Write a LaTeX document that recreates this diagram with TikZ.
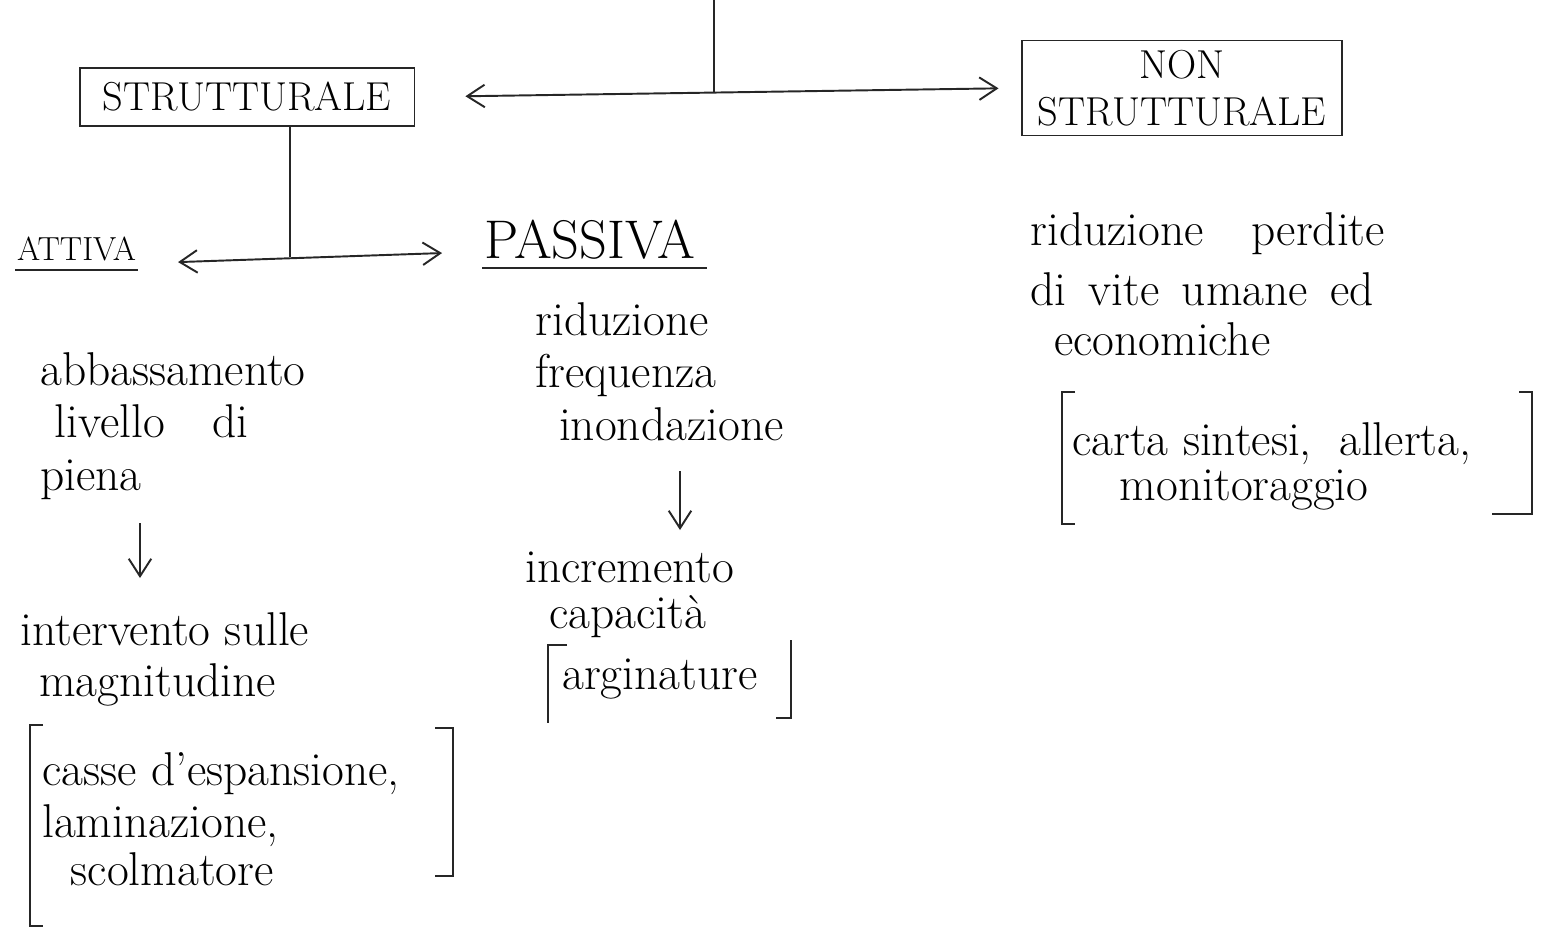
\documentclass[tikz,border=0pt]{standalone}
\usepackage{tikz}
\usetikzlibrary{arrows.meta,positioning}
\tikzset{
  >={Straight Barb[length=3.5mm,width=4.5mm]},
  hline/.style={black!85, line width=1.1pt},
  harr/.style={<->, black!85, line width=1.1pt},
  hdown/.style={->, black!85, line width=1.1pt},
  hbox/.style={draw=black!85, line width=1.1pt, font=\fontsize{23}{27}\selectfont,
               align=center, inner sep=4pt},
  hhead/.style={inner sep=1pt},
  htxt/.style={font=\fontsize{27}{30}\selectfont, align=left, anchor=north west, inner sep=0pt},
  hbrk/.style={black!85, line width=1.1pt},
}

\begin{document}
\begin{tikzpicture}[x=0.02cm, y=-0.02cm]
  \useasboundingbox (0,0) rectangle (1562,934);

  % categorie principali
  \node[hbox, minimum width=6.7cm, minimum height=1.15cm] (strut) at (247,97) {STRUTTURALE};
  \node[hbox, minimum width=6.4cm, minimum height=1.9cm] (nonstrut) at (1182,88) {NON\\STRUTTURALE};

  \coordinate (top) at (714,0);
  \coordinate (split) at (714,92);
  \draw[hline] (top) -- (split);
  \draw[harr, shorten <=1cm, shorten >=0.45cm] (strut.east) -- (nonstrut.west);

  % attiva / passiva
  \node[hhead, font=\fontsize{19}{23}\selectfont, anchor=base west] (attiva) at (15,260) {ATTIVA};
  \node[hhead, font=\fontsize{31}{36}\selectfont, anchor=base west] (passiva) at (482,258) {PASSIVA};
  \draw[hline] ([yshift=-4pt]attiva.south west) -- ([yshift=-4pt]attiva.south east);
  \draw[hline] ([yshift=-4pt]passiva.south west) -- ([xshift=0.2cm,yshift=-4pt]passiva.south east);

  \coordinate (split2) at (290,257);
  \draw[hline] (strut.south -| split2) -- (split2);
  \draw[harr, shorten <=0.8cm, shorten >=0.8cm]
       ([yshift=-0.3cm]attiva.east) -- ([yshift=-0.25cm]passiva.west);

  % ramo attiva
  \node[htxt] (abbass) at (40,352) {abbassamento\\\hspace{0.3em}livello\quad di\\piena};
  \node[htxt] (interv) at (20,612) {intervento sulle\\[-1pt]\hspace{0.4em}magnitudine};
  \coordinate (arrA) at (140,0);
  \draw[hdown, shorten <=0.46cm, shorten >=0.68cm] (abbass.south -| arrA) -- (interv.north -| arrA);

  \node[htxt] (casse) at (42,752) {casse d'espansione,\\laminazione,\\[-3pt]\hspace{0.6em}scolmatore};
  \draw[hbrk] ([xshift=0.02cm,yshift=0.54cm]casse.north west) -- ([xshift=-0.24cm,yshift=0.54cm]casse.north west)
              -- ([xshift=-0.24cm,yshift=-0.8cm]casse.south west) -- ([xshift=0.02cm,yshift=-0.8cm]casse.south west);
  \draw[hbrk] ([xshift=0.7cm,yshift=0.48cm]casse.north east) -- ([xshift=1.06cm,yshift=0.48cm]casse.north east)
              -- ([xshift=1.06cm,yshift=0.2cm]casse.south east) -- ([xshift=0.7cm,yshift=0.2cm]casse.south east);

  % ramo passiva
  \node[htxt] (ridfreq) at (535,302) {riduzione\\frequenza\\\hspace{0.5em}inondazione};
  \node[htxt] (increm) at (525,552) {incremento\\[-4pt]\hspace{0.5em}capacità};
  \coordinate (arrP) at (680,0);
  \draw[hdown, shorten <=0.6cm, shorten >=0.44cm] (ridfreq.south -| arrP) -- (increm.north -| arrP);

  \node[htxt] (argin) at (562,659) {arginature};
  \draw[hbrk] ([xshift=0.1cm,yshift=0.28cm]argin.north west) -- ([xshift=-0.28cm,yshift=0.28cm]argin.north west)
              -- ([xshift=-0.28cm,yshift=-0.46cm]argin.south west);
  \draw[hbrk] ([xshift=0.66cm,yshift=0.38cm]argin.north east)
              -- ([xshift=0.66cm,yshift=-0.36cm]argin.south east) -- ([xshift=0.36cm,yshift=-0.36cm]argin.south east);

  % ramo non strutturale
  \node[htxt] (ridperd) at (1030,212) {riduzione\quad perdite\\[4pt]di\, vite\, umane\, ed\\[-1.5pt]\hspace{0.5em}economiche};
  \node[htxt] (carta) at (1072,422) {carta sintesi,\; allerta,\\[-4pt]\hspace{1em}monitoraggio};
  \draw[hbrk] ([xshift=0.06cm,yshift=0.6cm]carta.north west) -- ([xshift=-0.2cm,yshift=0.6cm]carta.north west)
              -- ([xshift=-0.2cm,yshift=-0.26cm]carta.south west) -- ([xshift=0.06cm,yshift=-0.26cm]carta.south west);
  \draw[hbrk] ([xshift=0.95cm,yshift=0.6cm]carta.north east) -- ([xshift=1.2cm,yshift=0.6cm]carta.north east)
              -- ([xshift=1.2cm,yshift=-0.06cm]carta.south east) -- ([xshift=0.4cm,yshift=-0.06cm]carta.south east);

\end{tikzpicture}
\end{document}
